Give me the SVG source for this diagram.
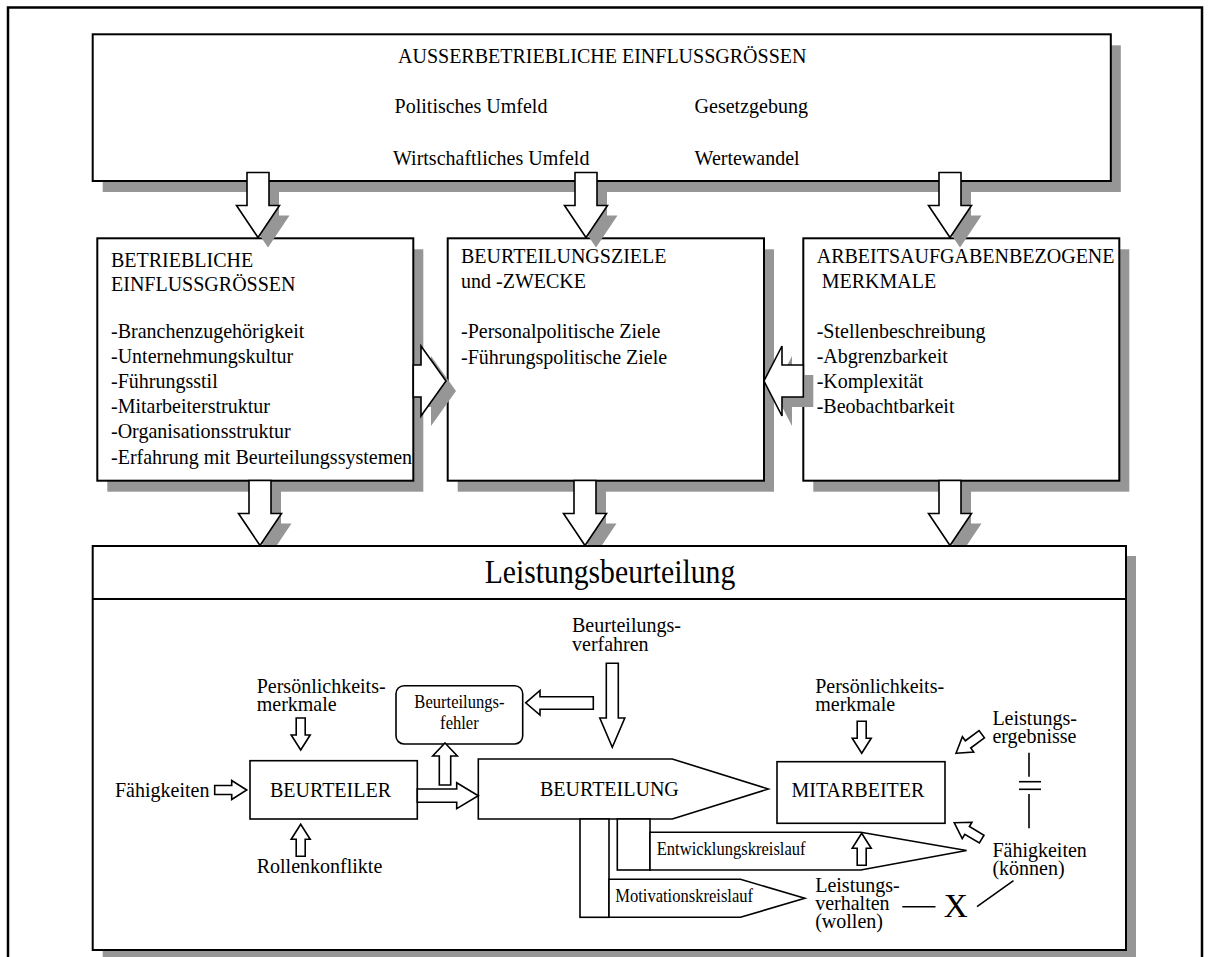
<svg xmlns="http://www.w3.org/2000/svg" width="1210" height="957" viewBox="0 0 1210 957">
<style>
  .bx{fill:#fff;stroke:#000;stroke-width:2}
  .sh{fill:#969696;stroke:none}
  .ln{fill:#fff;stroke:#000;stroke-width:1.6}
  .ar{fill:#fff;stroke:#000;stroke-width:1.6;stroke-linejoin:miter}
  .ed{fill:none;stroke:#000;stroke-width:1.6}
  text{font-family:"Liberation Serif","Times New Roman",serif;fill:#000}
  .m{font-size:22px}
  .s{font-size:18px}
  .h{font-size:33px}
  .x{font-size:34px}
</style>
<defs>
  <!-- wide block arrow, tip at origin, pointing down -->
  <path id="big" d="M0,0 L-21.5,-32 L-11,-32 L-11,-65 L11,-65 L11,-32 L21.5,-32 Z"/>
  <!-- small block arrow, tip at origin, pointing +x -->
  <path id="sm" d="M0,0 L-15,-9.5 L-15,-4.5 L-32,-4.5 L-32,4.5 L-15,4.5 L-15,9.5 Z"/>
</defs>
<rect width="1210" height="957" fill="#fff"/>
<!-- outer frame -->
<rect x="8" y="7.5" width="1194" height="975" fill="none" stroke="#000" stroke-width="2.5"/>

<!-- external factors -->
<g id="ausser">
  <rect class="sh" x="102.7" y="45.3" width="1018.1" height="146.7"/>
  <rect class="bx" x="92.7" y="34.3" width="1018.1" height="146.7"/>
</g>

<!-- middle row boxes -->
<g id="betrieblich">
  <rect class="sh" x="107.3" y="249.3" width="316" height="242.4"/>
  <rect class="bx" x="97.3" y="238.3" width="316" height="242.4"/>
</g>
<g id="ziele">
  <rect class="sh" x="457.7" y="249.3" width="316.3" height="242.4"/>
  <rect class="bx" x="447.7" y="238.3" width="316.3" height="242.4"/>
</g>
<g id="arbeitsaufgaben">
  <rect class="sh" x="813.3" y="249.3" width="316" height="242.4"/>
  <rect class="bx" x="803.3" y="238.3" width="316" height="242.4"/>
</g>

<g id="connectors">
  <!-- arrows from the top box -->
  <use href="#big" class="sh" transform="translate(268 247.5)"/>
  <use href="#big" class="sh" transform="translate(596 247.5)"/>
  <use href="#big" class="sh" transform="translate(960 247.5)"/>
  <use href="#big" class="ar" transform="translate(258 237.5)"/>
  <use href="#big" class="ar" transform="translate(586 237.5)"/>
  <use href="#big" class="ar" transform="translate(950 237.5)"/>
  <!-- side arrows into the goals box -->
  <polygon class="sh" points="423.3,375 431,375 431,356 456,391 431,426 431,407 423.3,407"/>
  <polygon class="sh" points="813.3,375 792,375 792,356 774,391 792,426 792,407 813.3,407"/>
  <polygon class="ar" points="413.3,365 421,365 421,346 446,381 421,416 421,397 413.3,397"/>
  <polygon class="ar" points="803.3,365 782,365 782,346 764,381 782,416 782,397 803.3,397"/>
  <!-- arrows down into the appraisal box (shadows) -->
  <use href="#big" class="sh" transform="translate(270 555.5)"/>
  <use href="#big" class="sh" transform="translate(595 555.5)"/>
  <use href="#big" class="sh" transform="translate(960 555.5)"/>
</g>

<!-- appraisal box -->
<g id="leistungsbeurteilung">
  <rect class="sh" x="102.7" y="556" width="1033.3" height="404"/>
  <rect class="bx" x="92.7" y="546" width="1033.3" height="404"/>
  <line x1="92.7" y1="599" x2="1126" y2="599" stroke="#000" stroke-width="2"/>
  <text class="h" text-anchor="middle" transform="translate(610 582.7) scale(.9 1)">Leistungsbeurteilung</text>
</g>

<g id="connectors-down">
  <use href="#big" class="ar" transform="translate(260 545.5)"/>
  <use href="#big" class="ar" transform="translate(585 545.5)"/>
  <use href="#big" class="ar" transform="translate(950 545.5)"/>
</g>

<!-- texts of the upper boxes -->
<g id="ausser-text">
  <text class="m" transform="translate(398 63.3) scale(.91 1)">AUSSERBETRIEBLICHE EINFLUSSGRÖSSEN</text>
  <text class="m" transform="translate(394.6 113.3) scale(.91 1)">Politisches Umfeld</text>
  <text class="m" transform="translate(694.6 113.3) scale(.91 1)">Gesetzgebung</text>
  <text class="m" transform="translate(393 165) scale(.91 1)">Wirtschaftliches Umfeld</text>
  <text class="m" transform="translate(694.6 165) scale(.91 1)">Wertewandel</text>
</g>
<g id="betrieblich-text">
  <text class="m" transform="translate(111 266.7) scale(.91 1)">
    <tspan x="0" y="0">BETRIEBLICHE</tspan>
    <tspan x="0" y="24">EINFLUSSGRÖSSEN</tspan>
    <tspan x="0" y="71.6">-Branchenzugehörigkeit</tspan>
    <tspan x="0" y="96.6">-Unternehmungskultur</tspan>
    <tspan x="0" y="121.6">-Führungsstil</tspan>
    <tspan x="0" y="146.6">-Mitarbeiterstruktur</tspan>
    <tspan x="0" y="171.6">-Organisationsstruktur</tspan>
    <tspan x="0" y="197.6">-Erfahrung mit Beurteilungssystemen</tspan>
  </text>
</g>
<g id="ziele-text">
  <text class="m" transform="translate(461 262.7) scale(.91 1)">
    <tspan x="0" y="0">BEURTEILUNGSZIELE</tspan>
    <tspan x="0" y="25.6">und -ZWECKE</tspan>
    <tspan x="0" y="75.6">-Personalpolitische Ziele</tspan>
    <tspan x="0" y="101.3">-Führungspolitische Ziele</tspan>
  </text>
</g>
<g id="arbeitsaufgaben-text">
  <text class="m" transform="translate(816.7 262.7) scale(.91 1)">
    <tspan x="0" y="0">ARBEITSAUFGABENBEZOGENE</tspan>
    <tspan x="5.5" y="25.6">MERKMALE</tspan>
    <tspan x="0" y="75.6">-Stellenbeschreibung</tspan>
    <tspan x="0" y="100.6">-Abgrenzbarkeit</tspan>
    <tspan x="0" y="125.6">-Komplexität</tspan>
    <tspan x="0" y="150.6">-Beobachtbarkeit</tspan>
  </text>
</g>

<!-- appraiser -->
<g id="beurteiler">
  <rect class="ln" x="250" y="760.7" width="167.3" height="58.3"/>
  <text class="m" transform="translate(270 796.7) scale(.91 1)">BEURTEILER</text>
</g>
<g id="beurteiler-inputs">
  <text class="m" transform="translate(256.7 693.3) scale(.91 1)"><tspan x="0" y="0">Persönlichkeits-</tspan><tspan x="0" y="17.7">merkmale</tspan></text>
  <text class="m" transform="translate(115 796.7) scale(.91 1)">Fähigkeiten</text>
  <text class="m" transform="translate(256.7 873.3) scale(.91 1)">Rollenkonflikte</text>
</g>
<!-- appraisal errors -->
<g id="fehler">
  <rect class="ln" x="396" y="685.7" width="126.7" height="58.3" rx="8"/>
  <text class="s" text-anchor="middle" transform="translate(459.4 708.3) scale(.92 1)"><tspan x="0" y="0">Beurteilungs-</tspan><tspan x="0" y="21">fehler</tspan></text>
</g>
<!-- procedure -->
<g id="verfahren">
  <text class="m" transform="translate(572 632) scale(.91 1)"><tspan x="0" y="0">Beurteilungs-</tspan><tspan x="0" y="18.5">verfahren</tspan></text>
</g>
<!-- appraisal -->
<g id="beurteilung">
  <polygon class="ln" points="478.3,759 672.3,759 768.3,789 672.3,819 478.3,819"/>
  <text class="m" transform="translate(540 796) scale(.91 1)">BEURTEILUNG</text>
</g>
<!-- feedback loops -->
<g id="motivation">
  <rect class="ln" x="580" y="819" width="29" height="98.3"/>
  <polygon class="ln" points="609,879.3 740.5,879.3 804.8,898.3 740.5,917.3 609,917.3"/>
  <text class="s" transform="translate(615.2 901.7) scale(.92 1)">Motivationskreislauf</text>
</g>
<g id="entwicklung">
  <rect class="ln" x="617.3" y="819" width="32.7" height="51"/>
  <polygon class="ln" points="650,832.3 860.8,832.3 966.6,850.5 860.8,870 650,870"/>
  <text class="s" transform="translate(656.7 855) scale(.92 1)">Entwicklungskreislauf</text>
</g>
<!-- employee -->
<g id="mitarbeiter">
  <rect class="ln" x="777" y="761.7" width="168" height="61.6"/>
  <text class="m" transform="translate(791.5 796.7) scale(.91 1)">MITARBEITER</text>
</g>
<g id="mitarbeiter-inputs">
  <text class="m" transform="translate(815.2 693.3) scale(.91 1)"><tspan x="0" y="0">Persönlichkeits-</tspan><tspan x="0" y="17.7">merkmale</tspan></text>
  <text class="m" transform="translate(992.4 725) scale(.91 1)"><tspan x="0" y="0">Leistungs-</tspan><tspan x="0" y="18.3">ergebnisse</tspan></text>
  <text class="m" transform="translate(992.4 856.7) scale(.91 1)"><tspan x="0" y="0">Fähigkeiten</tspan><tspan x="0" y="18.3">(können)</tspan></text>
  <text class="m" transform="translate(815.2 891.7) scale(.91 1)"><tspan x="0" y="0">Leistungs-</tspan><tspan x="0" y="18.3">verhalten</tspan><tspan x="0" y="36.6">(wollen)</tspan></text>
  <text class="x" transform="translate(943.8 917) scale(.98 1)">X</text>
</g>

<g id="inner-connectors">
  <!-- small block arrows -->
  <use href="#sm" class="ar" transform="translate(300.7 750) rotate(90)"/>
  <use href="#sm" class="ar" transform="translate(300.7 824.3) rotate(-90)"/>
  <use href="#sm" class="ar" transform="translate(246.7 790)"/>
  <use href="#sm" class="ar" transform="translate(861.7 753.3) rotate(90)"/>
  <use href="#sm" class="ar" transform="translate(861.7 833.3) rotate(-90)"/>
  <use href="#sm" class="ar" transform="translate(956 753.3) rotate(143.5)"/>
  <use href="#sm" class="ar" transform="translate(954.2 822.7) rotate(-149.2)"/>
  <!-- procedure into appraisal -->
  <polygon class="ar" points="606.3,663.3 618.3,663.3 618.3,718 624.8,718 612.3,747.3 599.8,718 606.3,718"/>
  <!-- procedure to appraisal errors -->
  <polygon class="ar" points="593.3,696.7 593.3,709.3 540,709.3 540,715 525.7,702.8 540,690.5 540,696.7"/>
  <!-- appraiser to appraisal errors -->
  <polygon class="ar" points="445,743 457.3,756 450.7,756 450.7,785 439.3,785 439.3,756 432.7,756"/>
  <!-- appraiser to appraisal -->
  <polygon class="ar" points="417.3,789 456.7,789 456.7,782.7 478.3,795.7 456.7,808.7 456.7,802.3 417.3,802.3"/>
  <!-- results = abilities, behaviour x abilities -->
  <line class="ed" x1="1029" y1="752.7" x2="1029" y2="776.7"/>
  <line class="ed" x1="1019" y1="781.7" x2="1041" y2="781.7"/>
  <line class="ed" x1="1019" y1="789.3" x2="1041" y2="789.3"/>
  <line class="ed" x1="1029" y1="794" x2="1029" y2="828.3"/>
  <line class="ed" x1="902.3" y1="906.7" x2="935.5" y2="906.7"/>
  <line class="ed" x1="977" y1="906.7" x2="1013.5" y2="880.7"/>
</g>
</svg>
